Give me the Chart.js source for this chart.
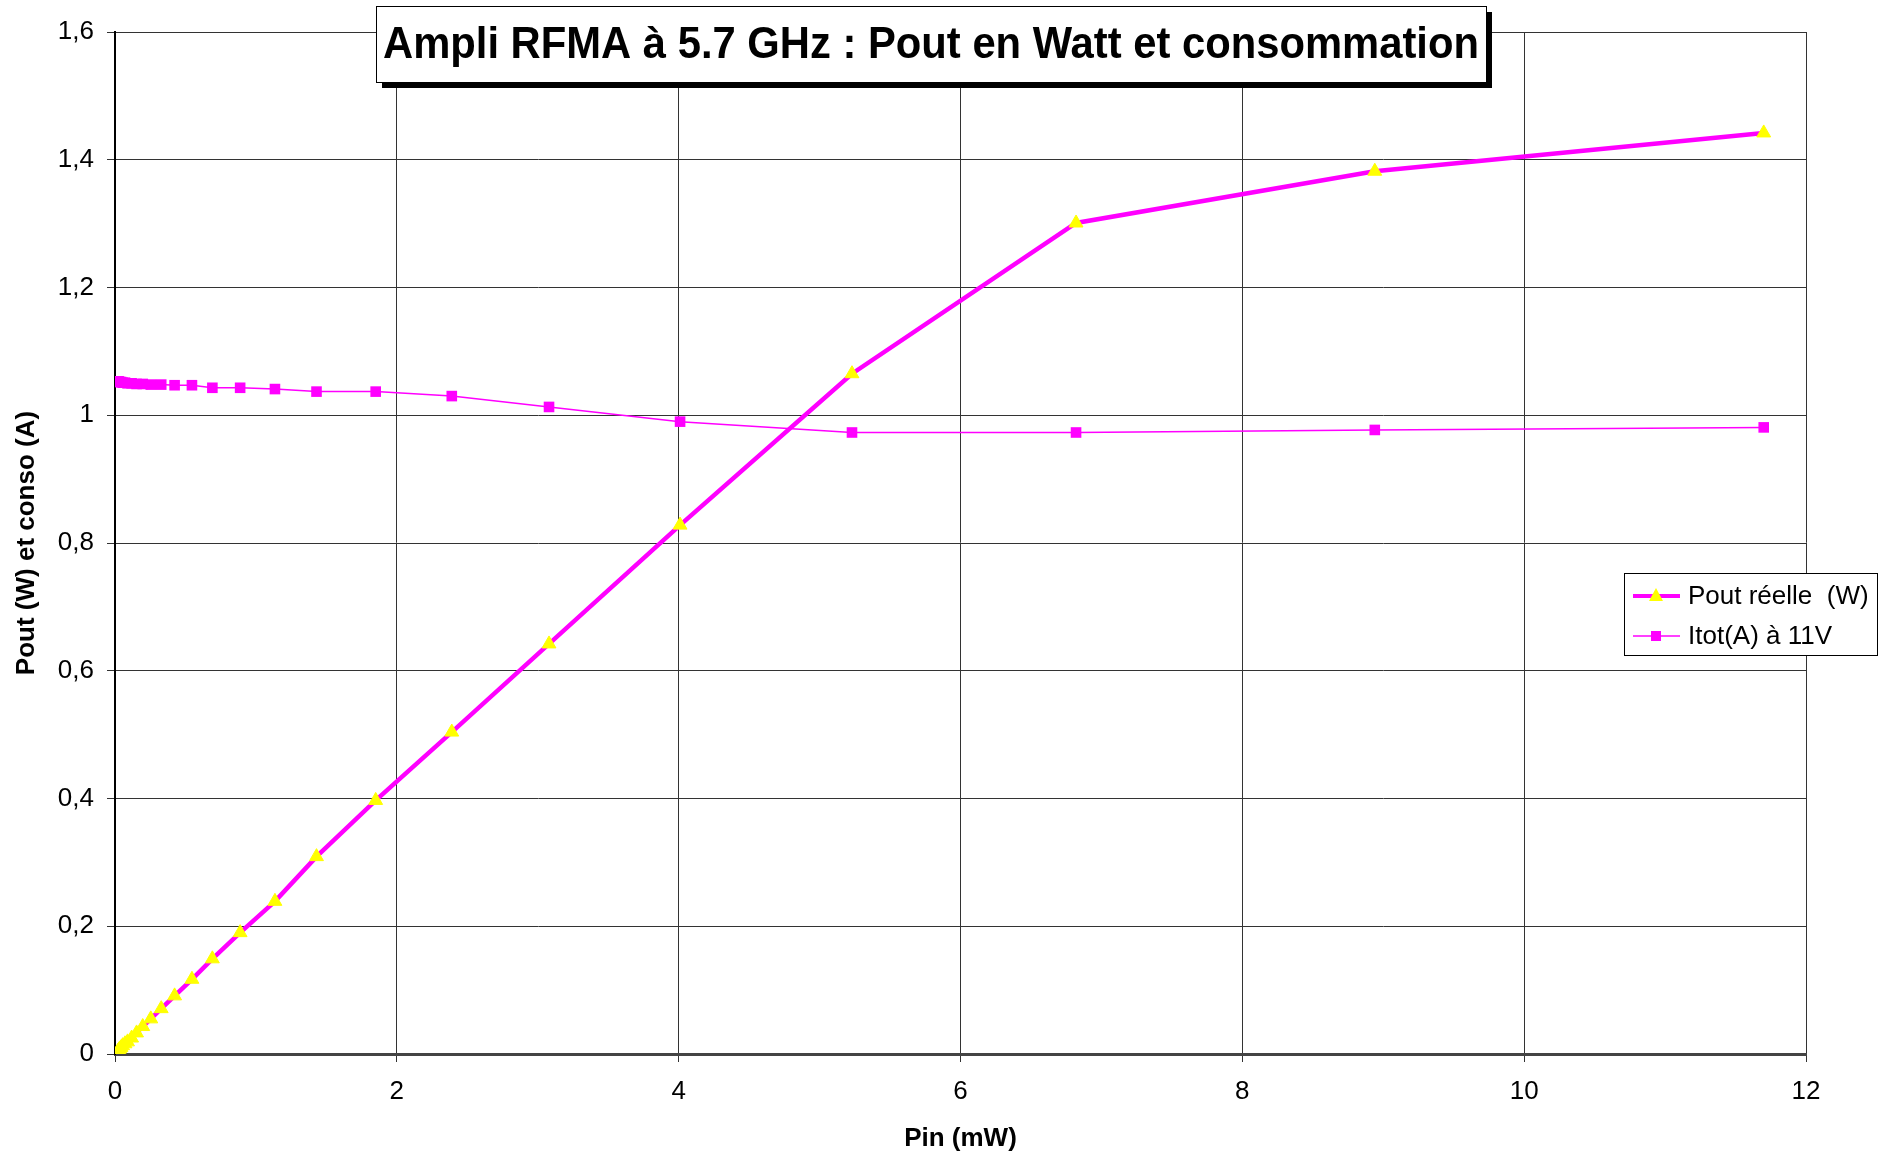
<!DOCTYPE html>
<html>
<head>
<meta charset="utf-8">
<script src="https://cdn.jsdelivr.net/npm/chart.js@4.4.0/dist/chart.umd.min.js"></script>
<style>
  body { margin: 0; background: #fff; }
  canvas { display: block; }
</style>
</head>
<body>
<canvas id="chart" width="1885" height="1157"></canvas>
<script>
// Valeurs
const chartTitle = 'Ampli RFMA à 5.7 GHz : Pout en Watt et consommation';
const xTitle = 'Pin (mW)';
const yTitle = 'Pout (W) et conso (A)';
const seriesNames = ['Pout réelle  (W)', 'Itot(A) à 11V'];

const pinMw = [0.020, 0.026, 0.033, 0.043, 0.054, 0.071, 0.089, 0.118, 0.153, 0.197, 0.254, 0.328, 0.423,
               0.546, 0.691, 0.888, 1.135, 1.430, 1.850, 2.390, 3.080, 4.010, 5.230, 6.820, 8.940, 11.700];
const poutW = [0.004, 0.006, 0.008, 0.010, 0.013, 0.016, 0.019, 0.025, 0.033, 0.043, 0.055, 0.071, 0.091,
               0.117, 0.149, 0.190, 0.239, 0.309, 0.397, 0.504, 0.642, 0.828, 1.065, 1.301, 1.382, 1.442];
const itotA = [1.053, 1.053, 1.052, 1.052, 1.051, 1.051, 1.050, 1.050, 1.049, 1.049, 1.048, 1.048, 1.047,
               1.047, 1.043, 1.043, 1.041, 1.037, 1.037, 1.030, 1.013, 0.990, 0.973, 0.973, 0.977, 0.981];

const FONT = "'Liberation Sans', Arial, sans-serif";
const MAGENTA = '#ff00ff';
const YELLOW = '#ffff00';

// Titre encadré avec ombre
const titleBox = {
    id: 'titleBox',
    afterDraw(chart) {
        const ctx = chart.ctx;
        const x = 376, y = 6, w = 1110, h = 76;
        ctx.save();
        ctx.fillStyle = '#000';
        ctx.fillRect(x + 6, y + 6, w, h);
        ctx.fillStyle = '#fff';
        ctx.fillRect(x, y, w, h);
        ctx.strokeStyle = '#000';
        ctx.lineWidth = 1;
        ctx.strokeRect(x + 0.5, y + 0.5, w, h);
        ctx.font = 'bold 45px ' + FONT;
        ctx.fillStyle = '#000';
        ctx.textAlign = 'center';
        ctx.textBaseline = 'middle';
        const tw = ctx.measureText(chartTitle).width;
        const sx = Math.min(1, 1096 / tw);
        ctx.translate(x + w / 2, y + h / 2 + 2);
        ctx.scale(sx, 1);
        ctx.fillText(chartTitle, 0, 0);
        ctx.restore();
    }
};

// Légende dans le graphique
const legendBox = {
    id: 'legendBox',
    afterDraw(chart) {
        const ctx = chart.ctx;
        const x = 1624, y = 573, w = 253, h = 82;
        ctx.save();
        ctx.fillStyle = '#fff';
        ctx.fillRect(x, y, w, h);
        ctx.strokeStyle = '#000';
        ctx.lineWidth = 1;
        ctx.strokeRect(x + 0.5, y + 0.5, w, h);
        ctx.font = '26px ' + FONT;
        ctx.textBaseline = 'middle';
        ctx.fillStyle = '#000';
        // ligne 1
        let ry = 596;
        ctx.strokeStyle = MAGENTA;
        ctx.lineWidth = 4;
        ctx.beginPath(); ctx.moveTo(1633, ry); ctx.lineTo(1680, ry); ctx.stroke();
        ctx.fillStyle = YELLOW;
        ctx.beginPath(); ctx.moveTo(1656, ry - 8); ctx.lineTo(1663, ry + 5); ctx.lineTo(1649, ry + 5); ctx.closePath(); ctx.fill();
        ctx.fillStyle = '#000';
        ctx.fillText(seriesNames[0], 1688, ry + 1);
        // ligne 2
        ry = 636;
        ctx.strokeStyle = MAGENTA;
        ctx.lineWidth = 1.5;
        ctx.beginPath(); ctx.moveTo(1633, ry); ctx.lineTo(1680, ry); ctx.stroke();
        ctx.fillStyle = MAGENTA;
        ctx.fillRect(1651, ry - 5, 10, 10);
        ctx.fillStyle = '#000';
        ctx.fillText(seriesNames[1], 1688, ry + 1);
        ctx.restore();
    }
};

const toPoints = ys => pinMw.map((x, i) => ({ x: x, y: ys[i] }));

new Chart(document.getElementById('chart'), {
    type: 'line',
    data: {
        datasets: [{
            label: seriesNames[0],
            data: toPoints(poutW),
            borderColor: MAGENTA,
            borderWidth: 4.5,
            pointStyle: 'triangle',
            pointRadius: 8,
            pointBackgroundColor: YELLOW,
            pointBorderColor: YELLOW,
            pointBorderWidth: 1,
            tension: 0
        }, {
            label: seriesNames[1],
            data: toPoints(itotA),
            borderColor: MAGENTA,
            borderWidth: 1.5,
            pointStyle: 'rect',
            pointRadius: 7.5,
            pointBackgroundColor: MAGENTA,
            pointBorderColor: MAGENTA,
            pointBorderWidth: 0,
            tension: 0
        }]
    },
    options: {
        responsive: false,
        animation: false,
        layout: { padding: { top: 32, right: 79, left: 0, bottom: 0 } },
        plugins: { legend: { display: false }, tooltip: { enabled: false } },
        scales: {
            x: {
                type: 'linear',
                min: 0, max: 12,
                afterFit: s => { s.height = 103; },
                ticks: { stepSize: 2, padding: 14, color: '#000', font: { family: FONT, size: 26 } },
                grid: { color: '#333', lineWidth: 1, tickLength: 8, tickColor: '#333' },
                border: { color: '#444', width: 3 },
                title: { display: true, text: xTitle, color: '#000', font: { family: FONT, size: 26, weight: 'bold' }, padding: { top: 0, bottom: 3 } }
            },
            y: {
                min: 0, max: 1.6,
                afterFit: s => { s.width = 115; },
                ticks: {
                    stepSize: 0.2, padding: 13, color: '#000', font: { family: FONT, size: 26 },
                    callback: v => String(Math.round(v * 10) / 10).replace('.', ',')
                },
                grid: { color: '#333', lineWidth: 1, tickLength: 8, tickColor: '#333' },
                border: { color: '#000', width: 2 },
                title: { display: true, text: yTitle, color: '#000', font: { family: FONT, size: 26, weight: 'bold' }, padding: { top: 11, bottom: 0 } }
            }
        }
    },
    plugins: [titleBox, legendBox]
});
</script>
</body>
</html>
